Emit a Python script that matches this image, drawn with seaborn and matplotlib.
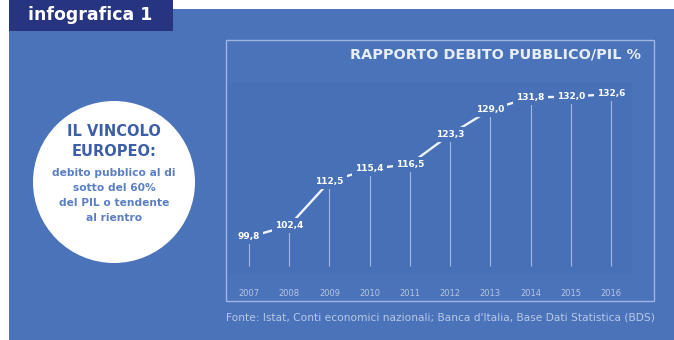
import matplotlib
matplotlib.use("Agg")
import matplotlib.pyplot as plt
from matplotlib.patches import Rectangle, Ellipse
import seaborn as sns
import pandas as pd

# ---- data ----
years = [2007, 2008, 2009, 2010, 2011, 2012, 2013, 2014, 2015, 2016]
debt_ratio = [99.8, 102.4, 112.5, 115.4, 116.5, 123.3, 129.0, 131.8, 132.0, 132.6]
value_labels = ["99,8", "102,4", "112,5", "115,4", "116,5", "123,3", "129,0", "131,8", "132,0", "132,6"]
year_labels = [str(y) for y in years]

title = "RAPPORTO DEBITO PUBBLICO/PIL %"
source = "Fonte: Istat, Conti economici nazionali; Banca d'Italia, Base Dati Statistica (BDS)"
header = "infografica 1"
circle_head = ["IL VINCOLO", "EUROPEO:"]
circle_body = ["debito pubblico al di", "sotto del 60%", "del PIL o tendente", "al rientro"]

df = pd.DataFrame({"anno": years, "rapporto": debt_ratio})

# ---- colours ----
BG = "#4b73b9"
PANEL = "#4870b6"
NAVY = "#27347f"
CIRCLE_TXT_H = "#3d5fa8"
CIRCLE_TXT_B = "#5b7fc2"

W, H = 674, 340
fig = plt.figure(figsize=(W / 100, H / 100), dpi=100)
fig.patch.set_facecolor("white")

def fx(px):
    return px / W

def fy(py):
    return 1 - py / H

# blue background
fig.add_artist(Rectangle((fx(9), 0), 1 - fx(9), fy(9), transform=fig.transFigure,
                         facecolor=BG, edgecolor="none", zorder=0))
# navy header tab
fig.add_artist(Rectangle((fx(9), fy(31)), fx(173) - fx(9), 1 - fy(31), transform=fig.transFigure,
                         facecolor=NAVY, edgecolor="none", zorder=1))
fig.text(fx(28), fy(15), header, color="white", fontsize=12.5, fontweight="bold",
         ha="left", va="center", zorder=2)

# frame
fig.add_artist(Rectangle((fx(226), fy(301)), fx(654) - fx(226), fy(40) - fy(301),
                         transform=fig.transFigure, facecolor="none",
                         edgecolor="#9fb4de", linewidth=1.0, zorder=1))
fig.text(fx(641), fy(55), title, color="#e8eef8", fontsize=10.4, fontweight="bold",
         ha="right", va="center")
fig.text(fx(226), fy(317), source, color="#b9c9e6", fontsize=7.7, ha="left", va="center")

# circle
fig.add_artist(Ellipse((fx(114), fy(182)), 162 / W, 162 / H, transform=fig.transFigure,
                       facecolor="white", edgecolor="none", zorder=1))
for i, t in enumerate(circle_head):
    fig.text(fx(114), fy(132 + i * 20), t, color=CIRCLE_TXT_H, fontsize=10.5,
             fontweight="bold", ha="center", va="center", zorder=2)
for i, t in enumerate(circle_body):
    fig.text(fx(114), fy(173 + i * 15), t, color=CIRCLE_TXT_B, fontsize=7.7,
             fontweight="bold", ha="center", va="center", zorder=2)

# ---- chart panel ----
ax = fig.add_axes([fx(228), fy(274), fx(632) - fx(228), fy(83) - fy(274)])
ax.set_facecolor(PANEL)
for s in ax.spines.values():
    s.set_visible(False)

base = 93.2
ax.vlines(df["anno"], base, df["rapporto"], color="#a4b8e0", linewidth=0.8, zorder=1)
sns.lineplot(data=df, x="anno", y="rapporto", ax=ax, color="#eef2fa", linewidth=1.7,
             zorder=2, legend=False)
for x, y, lab in zip(years, debt_ratio, value_labels):
    ax.text(x, y, lab, color="white", fontsize=6.5, fontweight="bold", ha="center",
            va="center", zorder=3,
            bbox=dict(boxstyle="square,pad=0.33", facecolor=PANEL, edgecolor="none"))

ax.set_xlim(2006.478, 2016.523)
ax.set_ylim(91.31, 135.12)
ax.set_xticks(years)
ax.set_xticklabels(year_labels)
ax.set_yticks([])
ax.tick_params(axis="x", length=0, pad=11, labelsize=6, labelcolor="#b6c6e6")
ax.set_xlabel("")
ax.set_ylabel("")

fig.savefig("out.png", dpi=100)
